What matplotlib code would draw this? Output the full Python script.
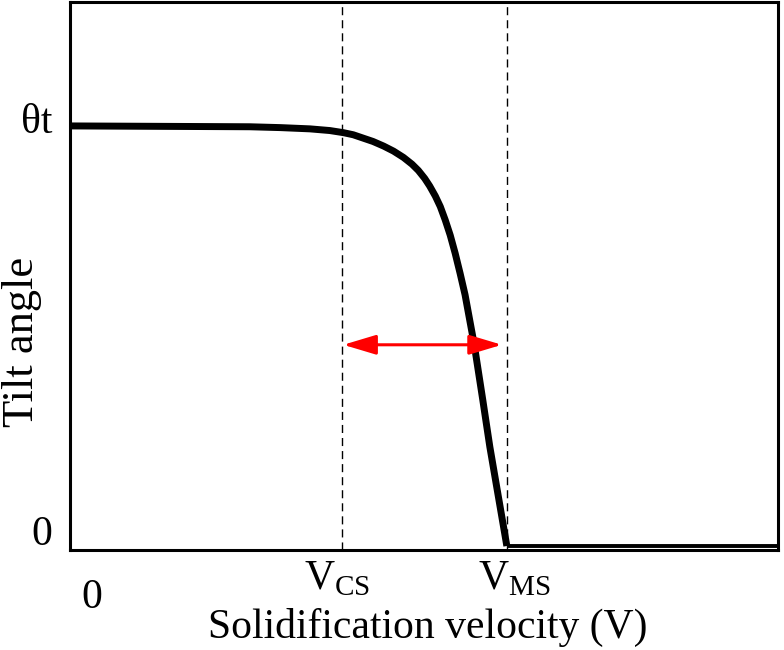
import matplotlib.pyplot as plt

plt.rcParams['font.family'] = ['Liberation Serif', 'DejaVu Serif']
plt.rcParams['mathtext.fontset'] = 'custom'
plt.rcParams['mathtext.rm'] = 'Liberation Serif'

# velocity (fraction of axis width) and tilt angle (fraction of theta_t)
v = [0.000, 0.254, 0.297, 0.339, 0.367, 0.386, 0.400, 0.414, 0.428, 0.443,
     0.457, 0.471, 0.483, 0.492, 0.501, 0.508, 0.516, 0.523, 0.530, 0.537,
     0.544, 0.551, 0.558, 0.571, 0.583, 0.593, 0.617, 1.000]
tilt = [1.000, 0.998, 0.996, 0.993, 0.989, 0.984, 0.979, 0.971, 0.963, 0.952,
        0.940, 0.925, 0.909, 0.894, 0.875, 0.857, 0.833, 0.808, 0.776, 0.740,
        0.697, 0.649, 0.598, 0.479, 0.348, 0.236, 0.000, 0.000]
v_cs = 0.384
v_ms = 0.617
arrow_y = 0.479

fig = plt.figure(figsize=(7.84, 6.5), dpi=100)
ax = fig.add_axes([70 / 784, 1 - 550 / 650, 708 / 784, 548 / 650])

ax.plot(v[:-1], tilt[:-1], color='black', lw=5, solid_capstyle='butt',
        solid_joinstyle='round', zorder=3)
ax.plot(v[-2:], tilt[-2:], color='black', lw=2.8, solid_capstyle='butt', zorder=3)

for xv in (v_cs, v_ms):
    ax.axvline(xv, color='black', lw=1.0, dashes=(5.8, 3.6), zorder=1)

ax.annotate('', xy=(v_cs + 0.002, arrow_y), xytext=(v_ms - 0.007, arrow_y),
            arrowprops=dict(arrowstyle='<|-|>,head_length=2.0,head_width=0.6',
                            color='red', lw=2.2, shrinkA=0, shrinkB=0), zorder=4)

ax.set_xlim(0, 1)
ax.set_ylim(-0.0095, 1.295)
ax.set_xticks([])
ax.set_yticks([])
for s in ax.spines.values():
    s.set_linewidth(2.2)

ytr = ax.get_yaxis_transform()
ax.text(-0.025, 1.007, 'θt', transform=ytr, ha='right', va='center', fontsize=30)
ax.text(-0.025, 0.027, '0', transform=ytr, ha='right', va='center', fontsize=30)

xtr = ax.get_xaxis_transform()
ax.text(0.031, -0.088, '0', transform=xtr, ha='center', va='center', fontsize=30)
ax.text(0.377, -0.053, 'V$_{\\mathrm{CS}}$', transform=xtr, ha='center', va='center', fontsize=30)
ax.text(0.627, -0.053, 'V$_{\\mathrm{MS}}$', transform=xtr, ha='center', va='center', fontsize=30)
ax.text(0.505, -0.142, 'Solidification velocity (V)', transform=ax.transAxes,
        ha='center', va='center', fontsize=30)

fig.text(22 / 784, 1 - 342 / 650, 'Tilt angle', rotation=90, ha='center', va='center', fontsize=32)

fig.savefig('out.png', dpi=100)
